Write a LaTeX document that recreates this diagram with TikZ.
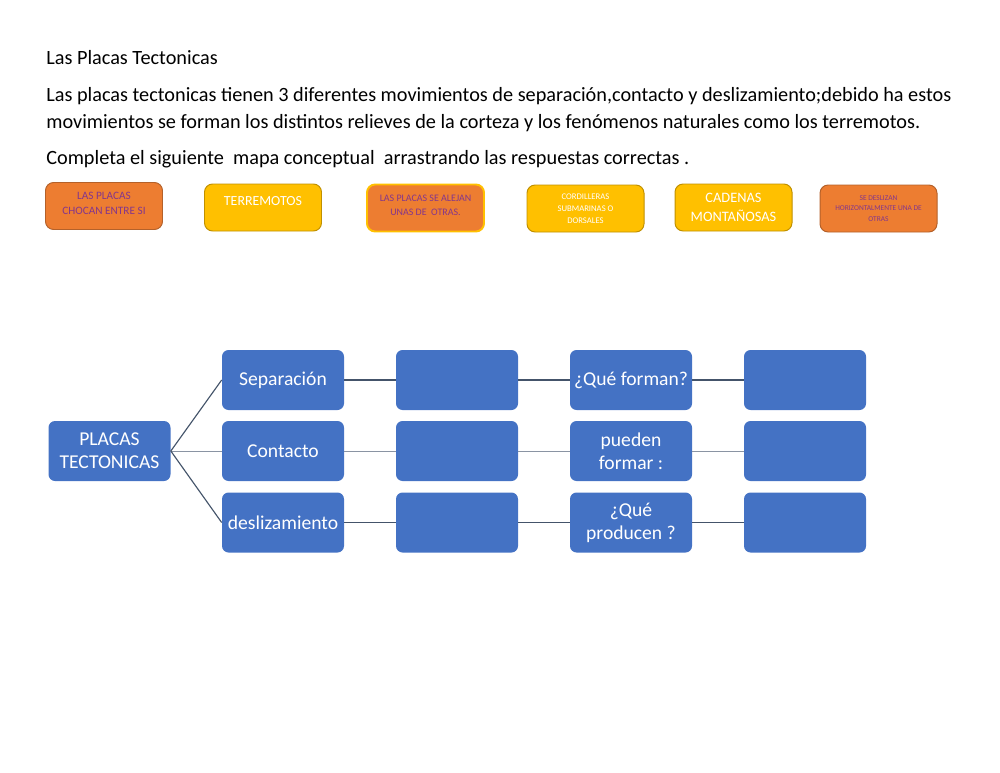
\documentclass[tikz,border=0pt]{standalone}
\usepackage{fontspec}
\setmainfont{Carlito}
\usetikzlibrary{positioning}

\definecolor{azul}{HTML}{4472C4}
\definecolor{naranja}{HTML}{ED7D31}
\definecolor{naranjaborde}{HTML}{B4612A}
\definecolor{amarillo}{HTML}{FFC000}
\definecolor{amarilloborde}{HTML}{C09000}
\definecolor{morado}{HTML}{83368C}
\definecolor{linea}{HTML}{44546A}
\definecolor{lineaclara}{HTML}{8A94A3}

\def\px{0.612pt}

\begin{document}
\begin{tikzpicture}[x=0.612pt,y=-0.612pt,
    caja/.style={fill=azul, rounded corners=4pt, minimum width=122*\px, minimum height=60*\px,
        inner sep=1pt, text=white, align=center, font=\fontsize{12}{14}\selectfont},
    ficha/.style={rounded corners=5pt, minimum width=117*\px, minimum height=47*\px,
        inner sep=1pt, align=center, line width=0.6pt},
    fnaranja/.style={ficha, fill=naranja, draw=naranjaborde, text=morado},
    famarillo/.style={ficha, fill=amarillo, draw=amarilloborde, text=white},
    union/.style={draw=linea, line width=0.7pt},
    unionclara/.style={draw=lineaclara, line width=0.6pt}]
    \useasboundingbox (0,0) rectangle (1000,772);

    % Encabezado
    \node[anchor=base west, inner sep=0pt, font=\fontsize{12.4}{15}\selectfont] (titulo) at (46,64) {Las Placas Tectonicas};
    \node[anchor=base west, inner sep=0pt, font=\fontsize{12.4}{15}\selectfont] (linea1) at (46,101)
        {Las placas tectonicas tienen 3 diferentes movimientos de separación,contacto y deslizamiento;debido ha estos};
    \node[anchor=base west, inner sep=0pt, font=\fontsize{12.4}{15}\selectfont] (linea2) at (46,128)
        {movimientos se forman los distintos relieves de la corteza y los fenómenos naturales como los terremotos.};
    \node[anchor=base west, inner sep=0pt, font=\fontsize{12.4}{15}\selectfont] (linea3) at (46,164)
        {Completa el siguiente\ \ mapa conceptual\ \ arrastrando las respuestas correctas .};

    % Respuestas para arrastrar
    \node[fnaranja, font=\fontsize{6.9}{9}\selectfont, text depth=3pt] (r1) at (104,206) {LAS PLACAS\\CHOCAN ENTRE SI};
    \node[famarillo, font=\fontsize{8.5}{9}\selectfont, text depth=8pt] (r2) at (263,207.5) {TERREMOTOS};
    \node[fnaranja, draw=amarillo, line width=1.2pt, font=\fontsize{6.1}{8.5}\selectfont, text depth=3pt] (r3) at (425.5,208) {LAS PLACAS SE ALEJAN\\UNAS DE\ \ OTRAS.};
    \node[famarillo, font=\fontsize{5.3}{7.5}\selectfont] (r4) at (585.5,208.5) {CORDILLERAS\\SUBMARINAS O\\DORSALES};
    \node[famarillo, font=\fontsize{8.8}{11.5}\selectfont] (r5) at (733.5,207.5) {CADENAS\\MONTAÑOSAS};
    \node[fnaranja, font=\fontsize{4.55}{6.2}\selectfont] (r6) at (878.5,208.5) {SE DESLIZAN\\HORIZONTALMENTE UNA DE\\OTRAS};

    % Mapa conceptual
    \node[caja] (raiz) at (109.5,451) {PLACAS\\TECTONICAS};
    \foreach \nombre/\texto/\pregunta/\y in {sep/Separación/{¿Qué forman?}/380,
            con/Contacto/{pueden\\formar :}/451,
            des/deslizamiento/{¿Qué\\producen ?}/522.5} {
        \node[caja] (\nombre1) at (283,\y) {\texto};
        \node[caja] (\nombre2) at (457,\y) {};
        \node[caja] (\nombre3) at (631,\y) {\pregunta};
        \node[caja] (\nombre4) at (805,\y) {};
    }

    \draw[union] (raiz.east) -- (sep1.west);
    \draw[unionclara] (raiz.east) -- (con1.west);
    \draw[union] (raiz.east) -- (des1.west);
    \foreach \a/\b in {1/2, 2/3, 3/4} {
        \draw[union] (sep\a) -- (sep\b);
        \draw[unionclara] (con\a) -- (con\b);
        \draw[union] (des\a) -- (des\b);
    }
\end{tikzpicture}
\end{document}
